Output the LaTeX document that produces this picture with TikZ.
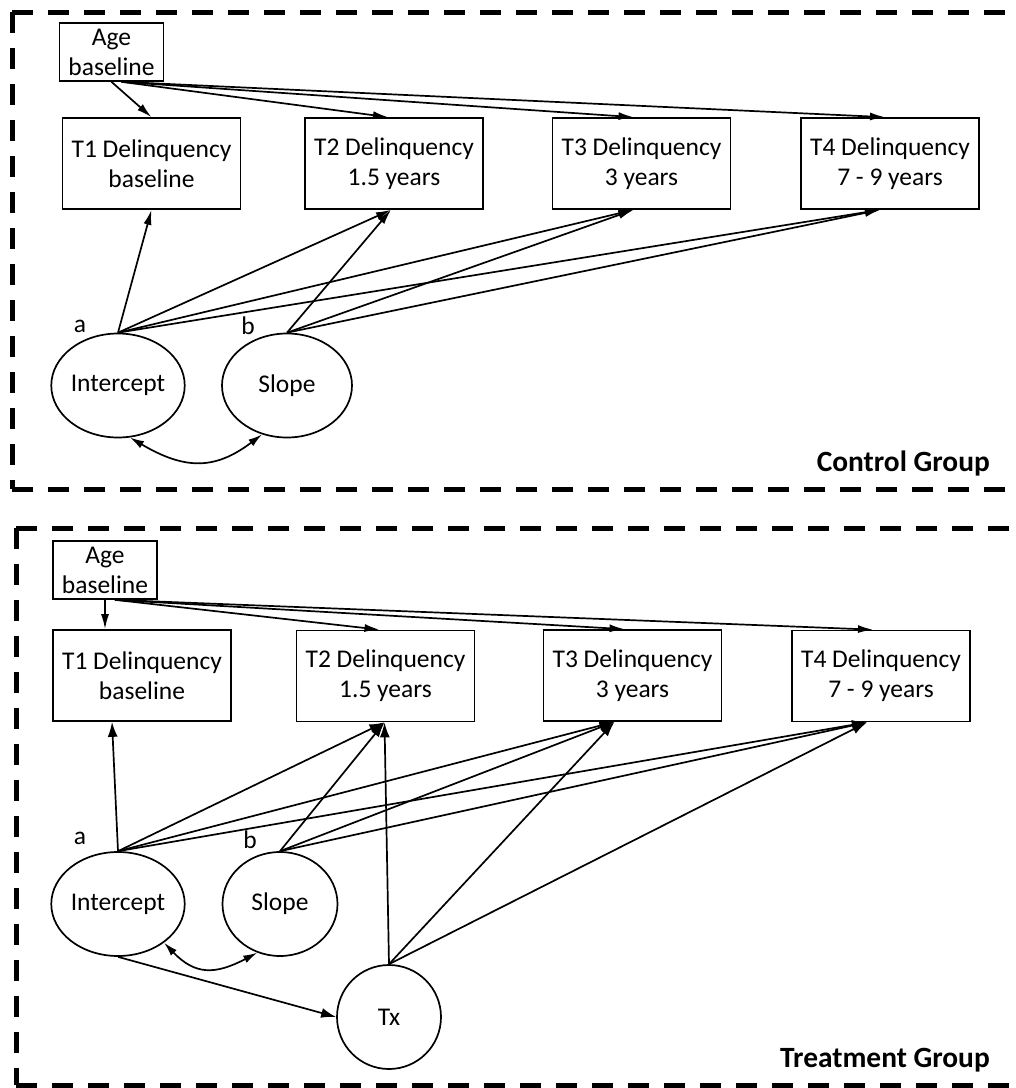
\documentclass[tikz,border=0pt]{standalone}
\usepackage{fontspec}
\setmainfont{Carlito}
\usetikzlibrary{arrows.meta,shapes.geometric,calc}

\begin{document}
\begin{tikzpicture}[x=1pt,y=-1pt,
  txt/.style={font=\fontsize{25.5}{30}\selectfont},
  box/.style={txt,draw,line width=1.7pt,rectangle,inner sep=0pt,align=center,
    minimum height=91pt,minimum width=178pt},
  agebox/.style={txt,draw,line width=1.7pt,rectangle,inner sep=0pt,align=center,
    minimum height=58pt,minimum width=104pt},
  latent/.style={txt,draw,line width=1.7pt,ellipse,inner sep=0pt,
    minimum height=104pt,minimum width=130pt},
  txcirc/.style={txt,draw,line width=1.7pt,circle,inner sep=0pt,minimum size=104pt},
  path/.style={line width=1.7pt,-{Latex[length=15pt,width=8pt]}},
  widepath/.style={line width=1.7pt,-{Latex[length=15pt,width=10pt]}},
  cov/.style={line width=1.7pt,{Latex[length=14pt,width=8pt]}-{Latex[length=14pt,width=8pt]}},
  frame/.style={line width=5pt,dash pattern=on 21pt off 15pt},
  grouplabel/.style={font=\fontsize{29.4}{34}\selectfont\bfseries,anchor=east,inner sep=0pt},
  lbl/.style={txt,inner sep=0pt}
]
\useasboundingbox (0,0) rectangle (1016,1088);
\clip (0,0) rectangle (1016,1088);

% ---------- control group panel ----------
\draw[frame] (12,12) -- (1040,12);
\draw[frame] (12,12) -- (12,489);
\draw[frame] (12,489) -- (1040,489);
\node[grouplabel] (cg) at (990,463) {Control Group};

\node[agebox] (age1) at (111.5,52) {Age\\baseline};
\node[box] (t1a) at (151.5,163.5) {T1 Delinquency\\baseline};
\node[box] (t2a) at (394,163.5) {T2 Delinquency\\1.5 years};
\node[box] (t3a) at (641.5,163.5) {T3 Delinquency\\3 years};
\node[box] (t4a) at (890,163.5) {T4 Delinquency\\7 - 9 years};
\node[latent] (int1) at (118,385.5) {Intercept};
\node[latent] (slo1) at (287,385.5) {Slope};
\node[lbl] (la1) at (80,326) {a};
\node[lbl] (lb1) at (248,326) {b};

\coordinate (age1o) at ($(age1.south)+(10,0)$);
\draw[path] (age1.south) -- (t1a.north);
\draw[path] (age1o) -- ($(t2a.north)+(-6,0)$);
\draw[path] (age1o) -- ($(t3a.north)+(-8,0)$);
\draw[path] (age1o) -- ($(t4a.north)+(-5,0)$);

\coordinate (t2a-in) at ($(t2a.south)+(-3,0)$);
\coordinate (t3a-in) at ($(t3a.south)+(-8,0)$);
\coordinate (t4a-in) at ($(t4a.south)+(-10,0)$);
\draw[path] (int1.north) -- (t1a.south);
\draw[path] (int1.north) -- (t2a-in);
\draw[path] (int1.north) -- (t3a-in);
\draw[path] (int1.north) -- (t4a-in);
\draw[path] (slo1.north) -- (t2a-in);
\draw[path] (slo1.north) -- (t3a-in);
\draw[path] (slo1.north) -- (t4a-in);
\draw[cov] (int1.-77) .. controls (185,470) and (215,470) .. (slo1.-117);

% ---------- treatment group panel ----------
\draw[frame] (16,528) -- (1040,528);
\draw[frame] (16,528) -- (16,1085);
\draw[frame] (16,1085) -- (1040,1085);
\node[grouplabel] (tg) at (990,1060) {Treatment Group};

\node[agebox] (age2) at (105,570) {Age\\baseline};
\node[box] (t1b) at (142,675.5) {T1 Delinquency\\baseline};
\node[box] (t2b) at (385.5,676) {T2 Delinquency\\1.5 years};
\node[box] (t3b) at (632.5,675.5) {T3 Delinquency\\3 years};
\node[box] (t4b) at (881,676) {T4 Delinquency\\7 - 9 years};
\node[latent] (int2) at (118,904) {Intercept};
\node[latent,minimum width=115pt] (slo2) at (280,904) {Slope};
\node[txcirc] (tx) at (389,1017) {Tx};
\node[lbl] (la2) at (80,838) {a};
\node[lbl] (lb2) at (250,840) {b};

\coordinate (age2o) at ($(age2.south)+(10,0)$);
\draw[path] (age2.south) -- (age2.south |- t1b.north);
\draw[path] (age2o) -- ($(t2b.north)+(-6,0)$);
\draw[path] (age2o) -- ($(t3b.north)+(-8,0)$);
\draw[path] (age2o) -- ($(t4b.north)+(-8,0)$);

\coordinate (t1b-in) at ($(t1b.south)+(-30,0)$);
\coordinate (t2b-in) at ($(t2b.south)+(-1,0)$);
\coordinate (t3b-in) at ($(t3b.south)+(-18,0)$);
\coordinate (t4b-in) at ($(t4b.south)+(-14,0)$);
\draw[widepath] (int2.north) -- (t1b-in);
\draw[widepath] (int2.north) -- (t2b-in);
\draw[widepath] (int2.north) -- (t3b-in);
\draw[widepath] (int2.north) -- (t4b-in);
\draw[widepath] (slo2.north) -- (t2b-in);
\draw[widepath] (slo2.north) -- (t3b-in);
\draw[widepath] (slo2.north) -- (t4b-in);
\draw[widepath] (tx.north) -- (t2b-in);
\draw[widepath] (tx.north) -- (t3b-in);
\draw[widepath] (tx.north) -- (t4b-in);
\draw[widepath] (int2.south) -- (tx.west);
\draw[cov] (int2.-40) .. controls (195,975) and (215,975) .. (slo2.-115);
\end{tikzpicture}
\end{document}
